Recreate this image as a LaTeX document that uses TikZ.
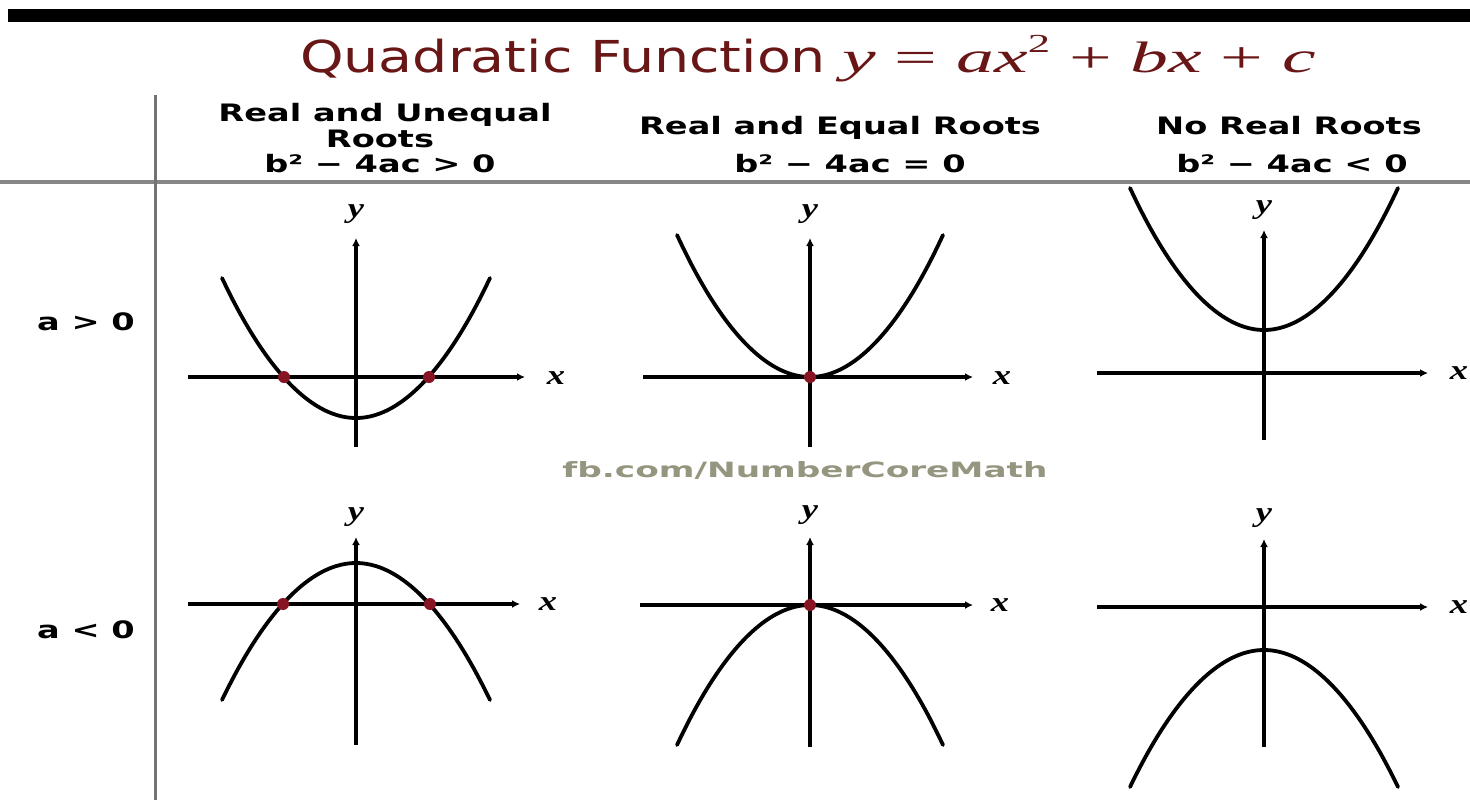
\documentclass[tikz,border=0pt]{standalone}
\usepackage{fontspec}
\usepackage{graphicx}
\setmainfont{DejaVu Sans}
\newfontfamily\serifit{Liberation Serif}
\usetikzlibrary{arrows.meta}
\definecolor{titlered}{RGB}{105,22,22}
\definecolor{rootred}{RGB}{135,20,35}
\definecolor{rulegray}{RGB}{135,135,135}
\definecolor{wmark}{RGB}{150,150,128}
\newcommand\hx[1]{\scalebox{1.4}[1]{#1}}
\newcommand\vx[1]{\scalebox{1.3}[1]{\serifit\bfseries\itshape #1}}
\begin{document}
\begin{tikzpicture}[x=1pt,y=-1pt,
  axisline/.style={line width=3.2pt,-{Latex[length=8pt,width=8pt]}},
  curve/.style={line width=3.8pt,line cap=round},
  rootdot/.style={circle,fill=rootred,inner sep=0pt,minimum size=12pt},
  hdr/.style={inner sep=0pt,anchor=base,font=\fontsize{24}{28}\selectfont\bfseries},
  axlabel/.style={inner sep=0pt,font=\fontsize{28}{32}\selectfont},
  sidelabel/.style={inner sep=0pt,font=\fontsize{24}{28}\selectfont\bfseries},
  titletext/.style={inner sep=0pt,anchor=base west,text=titlered,font=\fontsize{44}{50}\selectfont}]
\useasboundingbox (0,0) rectangle (1470,807);
\fill[white] (0,0) rectangle (1470,807);
% top bar
\fill[black] (8,9) rectangle (1470,22);
% title
\node[titletext] (title) at (300,72) {\scalebox{1.26}[1]{Quadratic Function}};
\node[titletext] (titlemath) at (842,72) {\scalebox{1.72}[1]{\serifit{\itshape y} = {\itshape ax}\raisebox{0.45em}{\fontsize{26}{30}\selectfont 2} + {\itshape bx} + {\itshape c}}};
% grid rules
\coordinate (hl) at (0,182); \coordinate (hr) at (1470,182);
\draw[rulegray,line width=4pt] (hl) -- (hr);
\coordinate (vt) at (155,95); \coordinate (vb) at (155,800);
\draw[rulegray!85!black,line width=3pt] (vt) -- (vb);
% headers
\node[hdr] (h1a) at (385,121) {\hx{Real and Unequal}};
\node[hdr] (h1b) at (380,147) {\hx{Roots}};
\node[hdr] (h1c) at (380,172) {\hx{b² − 4ac > 0}};
\node[hdr] (h2a) at (840,134) {\hx{Real and Equal Roots}};
\node[hdr] (h2c) at (850,172) {\hx{b² − 4ac = 0}};
\node[hdr] (h3a) at (1289,134) {\hx{No Real Roots}};
\node[hdr] (h3c) at (1292,172) {\hx{b² − 4ac < 0}};
% side labels
\node[sidelabel] (sa) at (86,322) {\hx{a > 0}};
\node[sidelabel] (sb) at (86,630) {\hx{a < 0}};
% watermark
\node[inner sep=0pt,text=wmark] (wm) at (805,470) {\resizebox{485pt}{16pt}{\bfseries fb.com/NumberCoreMath}};

% ---------- panel top-left ----------
\coordinate (p1xl) at (188,377); \coordinate (p1xr) at (525,377);
\coordinate (p1yb) at (356,447); \coordinate (p1yt) at (356,238);
\draw[axisline] (p1xl) -- (p1xr);
\draw[axisline] (p1yb) -- (p1yt);
\node[axlabel] (p1x) at (556,378) {\vx{x}};
\node[axlabel] (p1y) at (356,214) {\vx{y}};
\coordinate (p1a) at (222,278); \coordinate (p1v) at (356,418); \coordinate (p1b) at (490,278);
\draw[curve] (p1a) parabola bend (p1v) (p1b);
\node[rootdot] (p1r1) at (284,377) {};
\node[rootdot] (p1r2) at (429,377) {};

% ---------- panel top-middle ----------
\coordinate (p2xl) at (643,377); \coordinate (p2xr) at (973,377);
\coordinate (p2yb) at (810,447); \coordinate (p2yt) at (810,238);
\draw[axisline] (p2xl) -- (p2xr);
\draw[axisline] (p2yb) -- (p2yt);
\node[axlabel] (p2x) at (1002,378) {\vx{x}};
\node[axlabel] (p2y) at (810,214) {\vx{y}};
\coordinate (p2a) at (677,235); \coordinate (p2v) at (810,377); \coordinate (p2b) at (943,235);
\draw[curve] (p2a) parabola bend (p2v) (p2b);
\node[rootdot] (p2r) at (810,377) {};

% ---------- panel top-right ----------
\coordinate (p3xl) at (1097,373); \coordinate (p3xr) at (1428,373);
\coordinate (p3yb) at (1264,440); \coordinate (p3yt) at (1264,230);
\draw[axisline] (p3xl) -- (p3xr);
\draw[axisline] (p3yb) -- (p3yt);
\node[axlabel] (p3x) at (1459,373) {\vx{x}};
\node[axlabel] (p3y) at (1264,210) {\vx{y}};
\coordinate (p3a) at (1130,188); \coordinate (p3v) at (1264,330); \coordinate (p3b) at (1398,188);
\draw[curve] (p3a) parabola bend (p3v) (p3b);

% ---------- panel bottom-left ----------
\coordinate (p4xl) at (188,604); \coordinate (p4xr) at (520,604);
\coordinate (p4yb) at (356,745); \coordinate (p4yt) at (356,537);
\draw[axisline] (p4xl) -- (p4xr);
\draw[axisline] (p4yb) -- (p4yt);
\node[axlabel] (p4x) at (548,604) {\vx{x}};
\node[axlabel] (p4y) at (356,517) {\vx{y}};
\coordinate (p4a) at (222,700); \coordinate (p4v) at (356,563); \coordinate (p4b) at (490,700);
\draw[curve] (p4a) parabola bend (p4v) (p4b);
\node[rootdot] (p4r1) at (283,604) {};
\node[rootdot] (p4r2) at (430,604) {};

% ---------- panel bottom-middle ----------
\coordinate (p5xl) at (640,605); \coordinate (p5xr) at (973,605);
\coordinate (p5yb) at (810,747); \coordinate (p5yt) at (810,537);
\draw[axisline] (p5xl) -- (p5xr);
\draw[axisline] (p5yb) -- (p5yt);
\node[axlabel] (p5x) at (1000,605) {\vx{x}};
\node[axlabel] (p5y) at (810,515) {\vx{y}};
\coordinate (p5a) at (677,745); \coordinate (p5v) at (810,605); \coordinate (p5b) at (943,745);
\draw[curve] (p5a) parabola bend (p5v) (p5b);
\node[rootdot] (p5r) at (810,605) {};

% ---------- panel bottom-right ----------
\coordinate (p6xl) at (1097,607); \coordinate (p6xr) at (1428,607);
\coordinate (p6yb) at (1264,747); \coordinate (p6yt) at (1264,539);
\draw[axisline] (p6xl) -- (p6xr);
\draw[axisline] (p6yb) -- (p6yt);
\node[axlabel] (p6x) at (1459,607) {\vx{x}};
\node[axlabel] (p6y) at (1264,518) {\vx{y}};
\coordinate (p6a) at (1130,787); \coordinate (p6v) at (1264,650); \coordinate (p6b) at (1398,787);
\draw[curve] (p6a) parabola bend (p6v) (p6b);
\end{tikzpicture}
\end{document}
